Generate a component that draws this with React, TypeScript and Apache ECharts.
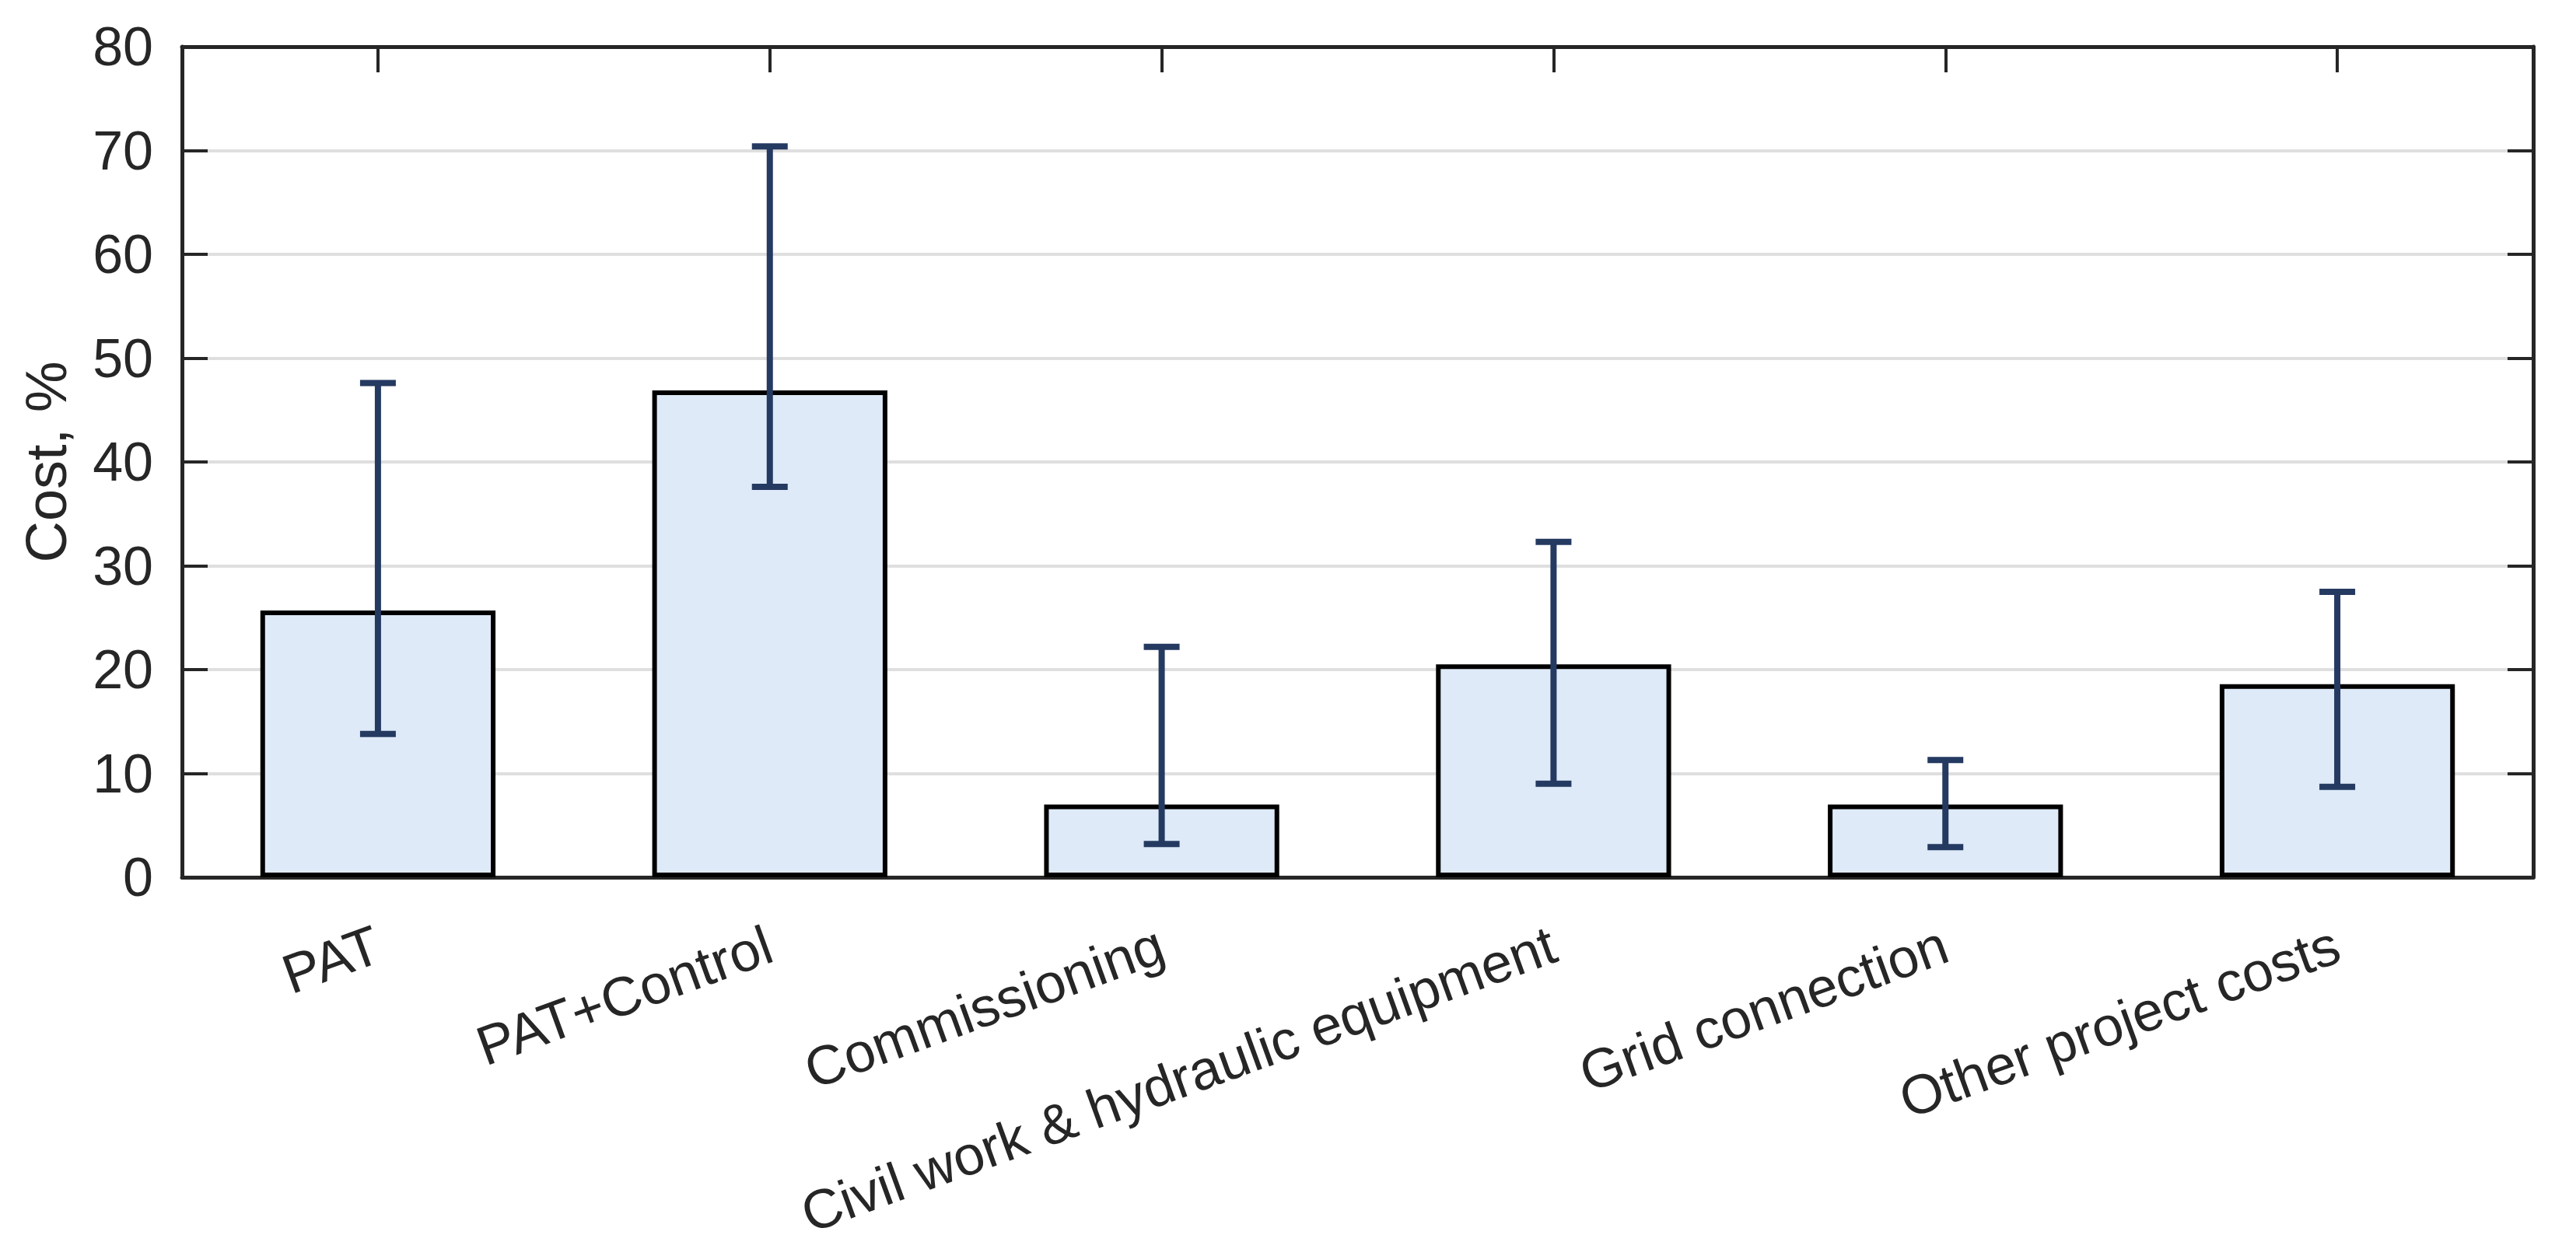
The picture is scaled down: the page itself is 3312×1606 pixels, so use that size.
import React, { useEffect, useRef } from "react";
import * as echarts from "echarts";

const categories = [
  "PAT",
  "PAT+Control",
  "Commissioning",
  "Civil work & hydraulic equipment",
  "Grid connection",
  "Other project costs",
];
const cost = [25.7, 46.9, 7.0, 20.5, 7.0, 18.6];
const errLow = [13.8, 37.6, 3.2, 9.0, 2.9, 8.7];
const errHigh = [47.6, 70.4, 22.2, 32.3, 11.3, 27.5];
const yMin = 0;
const yMax = 80;
const yStep = 10;
const yName = "Cost, %";

const AXIS_COLOR = "#262626";
const FONT = "'Liberation Sans', Arial, Helvetica, sans-serif";

export default function App() {
  const ref = useRef<HTMLDivElement>(null);
  useEffect(() => {
    if (!ref.current) return;
    const chart = echarts.init(ref.current, null, { renderer: "svg" });
    const axisLine = { show: true, onZero: false, lineStyle: { color: AXIS_COLOR, width: 5 } };
    const axisTick = {
      show: true,
      inside: true,
      length: 33,
      lineStyle: { color: AXIS_COLOR, width: 4 },
    };
    chart.setOption({
      animation: false,
      backgroundColor: "#ffffff",
      textStyle: { fontFamily: FONT },
      grid: { left: 234, right: 55, top: 60, bottom: 478, containLabel: false },
      xAxis: [
        {
          type: "category",
          data: categories,
          position: "bottom",
          axisLine,
          axisTick: { ...axisTick, alignWithLabel: true },
          axisLabel: {
            rotate: 20,
            interval: 0,
            fontSize: 71,
            color: AXIS_COLOR,
            margin: 84,
            fontFamily: FONT,
          },
          splitLine: { show: false },
        },
        {
          type: "category",
          data: categories,
          position: "top",
          axisLine,
          axisTick: { ...axisTick, alignWithLabel: true },
          axisLabel: { show: false },
          splitLine: { show: false },
        },
      ],
      yAxis: [
        {
          type: "value",
          min: yMin,
          max: yMax,
          interval: yStep,
          position: "left",
          name: yName,
          nameLocation: "middle",
          nameGap: 138,
          nameTextStyle: { fontSize: 74, color: AXIS_COLOR, fontFamily: FONT },
          axisLine,
          axisTick,
          axisLabel: { fontSize: 70, color: AXIS_COLOR, margin: 37, fontFamily: FONT },
          splitLine: { show: true, lineStyle: { color: "#dfdfdf", width: 4 } },
        },
        {
          type: "value",
          min: yMin,
          max: yMax,
          interval: yStep,
          position: "right",
          axisLine,
          axisTick,
          axisLabel: { show: false },
          splitLine: { show: false },
        },
      ],
      series: [
        {
          type: "bar",
          data: cost,
          xAxisIndex: 0,
          yAxisIndex: 0,
          barWidth: "60%",
          itemStyle: { color: "#deeaf8", borderColor: "#000000", borderWidth: 6 },
          z: 2,
        },
        {
          type: "custom",
          xAxisIndex: 0,
          yAxisIndex: 0,
          z: 10,
          data: categories.map((_, i) => [i, errLow[i], errHigh[i]]),
          encode: { x: 0, y: [1, 2] },
          renderItem: (params: any, api: any) => {
            const xi = api.value(0);
            const lo = api.coord([xi, api.value(1)]);
            const hi = api.coord([xi, api.value(2)]);
            const hw = 23;
            const style = { stroke: "#253a61", lineWidth: 8, lineCap: "butt" };
            return {
              type: "group",
              children: [
                { type: "line", shape: { x1: hi[0], y1: hi[1], x2: lo[0], y2: lo[1] }, style },
                { type: "line", shape: { x1: hi[0] - hw, y1: hi[1], x2: hi[0] + hw, y2: hi[1] }, style },
                { type: "line", shape: { x1: lo[0] - hw, y1: lo[1], x2: lo[0] + hw, y2: lo[1] }, style },
              ],
            };
          },
        },
      ],
    });
    return () => chart.dispose();
  }, []);
  return (
    <div
      ref={ref}
      style={{ position: "fixed", left: 0, top: 0, width: "3312px", height: "1606px", background: "#fff" }}
    />
  );
}
